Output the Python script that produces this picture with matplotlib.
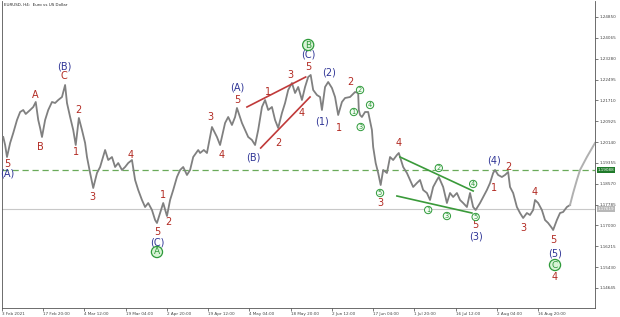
import matplotlib
matplotlib.use("Agg")
import matplotlib.pyplot as plt

# ---- data ----
bars = [2, 5, 8, 13, 18, 24, 29, 34, 38, 45, 50, 54, 58, 61, 64, 69, 74, 80, 85, 90, 96, 101, 104, 109, 114, 118,
        123, 128, 133, 136, 141, 146, 152, 157, 165, 170, 176, 181, 186, 192, 197, 202, 208, 213, 218, 224, 229,
        234, 240, 245, 248, 253, 258, 264, 269, 274, 280, 285, 290, 296, 301, 306, 314,
        317, 323, 328, 336, 344, 349, 357, 362, 368, 373, 376, 384, 389, 394, 400, 405, 410, 416, 421, 426, 432,
        437, 442, 448, 453, 458, 464, 469, 474, 480, 485, 490, 494, 498, 504, 509, 512, 517, 522, 528, 533, 538,
        544, 549, 557, 565, 570, 571, 573, 576, 581, 586, 592, 594, 598, 602, 606, 610, 616, 621, 626, 632, 635,
        642, 648, 653, 658, 664, 669, 674, 680, 685, 690, 696, 699, 706, 712, 717, 722, 728, 733, 738, 744, 749,
        754, 758, 765, 770, 776, 781, 786, 789, 794, 800, 805, 810, 813, 818, 824, 829, 834, 840, 845, 850, 853,
        858, 864, 869, 874, 880, 882, 888, 893, 898, 904, 909]
prices = [1.20331, 1.20029, 1.19577, 1.20105, 1.20481, 1.20971, 1.21272, 1.21347, 1.21197, 1.21347, 1.21460,
          1.21649, 1.20971, 1.20670, 1.20331, 1.20971, 1.21347, 1.21649, 1.21611, 1.21724, 1.21837, 1.22289,
          1.21611, 1.21084, 1.20594, 1.20029, 1.21046, 1.20594, 1.20105, 1.19577, 1.18975, 1.18410, 1.18975,
          1.19201, 1.19841, 1.19464, 1.19577, 1.19201, 1.19351, 1.19088, 1.19201, 1.19351, 1.19464, 1.18711,
          1.18335, 1.17958, 1.17694, 1.17845, 1.17581, 1.17205, 1.17092, 1.17468, 1.17845, 1.17355, 1.17958,
          1.18335, 1.18824, 1.19088, 1.19201, 1.18900, 1.19088, 1.19577, 1.19841,
          1.19728, 1.19841, 1.19728, 1.20707, 1.20331, 1.20029, 1.20858, 1.21084, 1.20783, 1.21084, 1.21423,
          1.20858, 1.20594, 1.20331, 1.20218, 1.20029, 1.20594, 1.21460, 1.21724, 1.21347, 1.21460, 1.20971,
          1.20670, 1.21234, 1.21611, 1.22101, 1.22364, 1.21988, 1.22214, 1.21724, 1.22214, 1.22590, 1.22666,
          1.22101, 1.21912, 1.21837, 1.21347, 1.22214, 1.22402, 1.22176, 1.21837, 1.21159, 1.21649, 1.21799,
          1.21837, 1.22025, 1.21988, 1.21347, 1.21159, 1.21084, 1.21272, 1.21272, 1.20594, 1.19954, 1.19351,
          1.18975, 1.18523, 1.19088, 1.18975, 1.19577, 1.19464, 1.19653, 1.19728,
          1.19201, 1.18975, 1.18711, 1.18448, 1.18598, 1.18711, 1.18335, 1.18222, 1.17958, 1.18448, 1.18711,
          1.18824, 1.18448, 1.17845, 1.18222, 1.18071, 1.18222, 1.17958, 1.17845, 1.17694, 1.18222, 1.17694,
          1.17581, 1.17845, 1.18071, 1.18335, 1.18598, 1.18975, 1.19088, 1.18900, 1.18824, 1.18900, 1.19012,
          1.18448, 1.18222, 1.17694, 1.17468, 1.17280, 1.17468, 1.17393, 1.17581, 1.17958, 1.17845, 1.17581,
          1.17205, 1.17092, 1.16904, 1.16828, 1.17205, 1.17468, 1.17506, 1.17694, 1.17770]

proj_bars = [909, 914, 920, 925, 936, 949]
proj_prices = [1.17770, 1.18222, 1.18711, 1.19088, 1.19577, 1.20105]

red_lines = [((392, 486), (1.21460, 1.22590)), ((414, 493), (1.19916, 1.21837))]
green_lines = [((637, 754), (1.19577, 1.18297)), ((632, 752), (1.18109, 1.17468))]

level_dashed = 1.19088
level_current = 1.17619

xtick_bars = [0, 66, 132, 198, 264, 330, 396, 462, 528, 594, 660, 726, 792, 858]
xtick_labels = ["3 Feb 2021", "17 Feb 20:00", "4 Mar 12:00", "19 Mar 04:00", "2 Apr 20:00", "19 Apr 12:00",
                "4 May 04:00", "18 May 20:00", "2 Jun 12:00", "17 Jun 04:00", "1 Jul 20:00", "16 Jul 12:00",
                "2 Aug 04:00", "16 Aug 20:00"]
ytick_values = [1.24850, 1.24065, 1.23280, 1.22495, 1.21710, 1.20925, 1.20140, 1.19355, 1.18570, 1.17785,
                1.17000, 1.16215, 1.15430, 1.14645]

red_labels = [("5", 8, 1.19320), ("A", 53, 1.21912), ("B", 61, 1.19954), ("C", 99, 1.22628), ("1", 118, 1.19766),
              ("2", 123, 1.21347), ("3", 144, 1.18071), ("4", 206, 1.19653), ("5", 248, 1.16753),
              ("1", 258, 1.18146), ("2", 267, 1.17130), ("3", 333, 1.21084), ("4", 352, 1.19653),
              ("5", 376, 1.21724), ("1", 426, 1.22025), ("2", 442, 1.20105), ("3", 462, 1.22666),
              ("4", 480, 1.21234), ("5", 490, 1.22967), ("1", 539, 1.20670), ("2", 558, 1.22402),
              ("3", 605, 1.17845), ("4", 634, 1.20105), ("5", 758, 1.17017), ("1", 787, 1.18410),
              ("2", 810, 1.19201), ("3", 834, 1.16904), ("4", 853, 1.18259), ("5", 883, 1.16452),
              ("4", 885, 1.15058)]
blue_labels = [("(A)", 8, 1.18960), ("(B)", 99, 1.22967), ("(C)", 248, 1.16376), ("(A)", 376, 1.22176),
               ("(B)", 402, 1.19577), ("(C)", 490, 1.23419), ("(1)", 512, 1.20896), ("(2)", 523, 1.22741),
               ("(3)", 758, 1.16565), ("(4)", 787, 1.19464), ("(5)", 885, 1.15962)]
green_big = [("A", 248, 1.16000), ("B", 490, 1.23795), ("C", 885, 1.15510)]
green_small = [("1", 563, 1.21272), ("2", 573, 1.22101), ("3", 574, 1.20707), ("4", 589, 1.21536),
               ("5", 605, 1.18222), ("1", 682, 1.17581), ("2", 699, 1.19163), ("3", 712, 1.17355),
               ("4", 754, 1.18561), ("5", 758, 1.17318)]

# ---- figure ----
RED = "#b22a22"
BLUE = "#2f3596"
GREEN = "#2e9a3a"

fig = plt.figure(figsize=(6.2, 3.17), dpi=100)
ax = fig.add_axes([2 / 620, 9 / 317, 593 / 620, 307 / 317])
ax.set_xlim(0, 949)
ax.set_ylim(1.13891, 1.25452)

ax.axhline(level_current, color="#c8c8c8", lw=0.8, zorder=1)
ax.axhline(level_dashed, color="#6aaa5a", lw=0.9, ls=(0, (5, 3)), zorder=1)

ax.plot(bars, prices, color="#808080", lw=1.3, zorder=3)
ax.plot(proj_bars, proj_prices, color="#b0b0b0", lw=1.4, zorder=3)

for xs, ys in red_lines:
    ax.plot(xs, ys, color="#c03a3a", lw=1.2, zorder=4)
for xs, ys in green_lines:
    ax.plot(xs, ys, color="#3a9a3a", lw=1.2, zorder=4)

for t, x, y in red_labels:
    ax.text(x, y, t, color=RED, fontsize=7, ha="center", va="center", zorder=5)
for t, x, y in blue_labels:
    ax.text(x, y, t, color=BLUE, fontsize=7, ha="center", va="center", zorder=5)
for t, x, y in green_big:
    ax.text(x, y, t, color=GREEN, fontsize=6.5, ha="center", va="center", zorder=5,
            bbox=dict(boxstyle="circle,pad=0.12", fc="#d8f3d5", ec=GREEN, lw=0.9))
for t, x, y in green_small:
    ax.text(x, y, t, color=GREEN, fontsize=4.8, ha="center", va="center", zorder=5,
            bbox=dict(boxstyle="circle,pad=0.1", fc="#f4fcf3", ec=GREEN, lw=0.7))

ax.text(0.003, 0.995, "EURUSD, H4:  Euro vs US Dollar", transform=ax.transAxes, fontsize=2.9,
        ha="left", va="top", color="#222222")

ax.set_xticks(xtick_bars)
ax.set_xticklabels(xtick_labels, ha="left")
ax.yaxis.tick_right()
ax.set_yticks(ytick_values)
ax.set_yticklabels([f"{v:.5f}" for v in ytick_values])
ax.tick_params(axis="both", labelsize=3.0, colors="#444444", length=2, width=0.5, pad=1.2)

for lvl, fc in ((level_dashed, "#1f7a2a"), (level_current, "#b8b8b8")):
    ax.annotate(f"{lvl:.5f}", xy=(1.0, lvl), xycoords=("axes fraction", "data"),
                xytext=(2.0, 0), textcoords="offset points", fontsize=3.0, color="white",
                ha="left", va="center",
                bbox=dict(boxstyle="square,pad=0.15", fc=fc, ec="none"))

for s in ("left", "right", "bottom"):
    ax.spines[s].set_color("#555555")
    ax.spines[s].set_linewidth(0.6)
ax.spines["top"].set_visible(False)

fig.savefig("out.png", dpi=100)
